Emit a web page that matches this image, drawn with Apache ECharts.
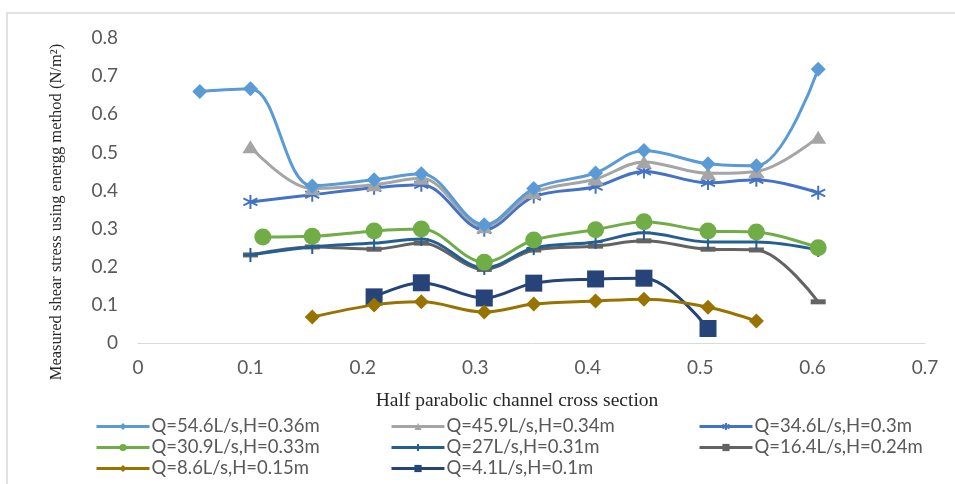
<!DOCTYPE html>
<html><head><meta charset="utf-8">
<script src="https://cdn.jsdelivr.net/npm/echarts@6/dist/echarts.min.js"></script>
<style>html,body{margin:0;padding:0;background:#fff}#c{width:955px;height:484px}</style>
</head><body><div id="c"></div>
<script>
const xTicks = ['0','0.1','0.2','0.3','0.4','0.5','0.6','0.7'];
const yTicks = ['0','0.1','0.2','0.3','0.4','0.5','0.6','0.7','0.8'];
const names = ['Q=54.6L/s,H=0.36m','Q=45.9L/s,H=0.34m','Q=34.6L/s,H=0.3m','Q=30.9L/s,H=0.33m','Q=27L/s,H=0.31m','Q=16.4L/s,H=0.24m','Q=8.6L/s,H=0.15m','Q=4.1L/s,H=0.1m'];
const xPos = [0.055,0.1,0.155,0.21,0.252,0.308,0.352,0.407,0.45,0.507,0.55,0.605];
const xPosGreen = [0.111,0.155,0.21,0.252,0.308,0.352,0.407,0.45,0.507,0.55,0.605];
const s1 = [0.66,0.667,0.412,0.428,0.444,0.31,0.405,0.446,0.505,0.47,0.465,0.718];
const s2 = [null,0.515,0.405,0.415,0.432,0.305,0.395,0.43,0.475,0.445,0.45,0.54];
const s3 = [null,0.37,0.389,0.407,0.415,0.297,0.384,0.41,0.45,0.42,0.428,0.394];
const s4 = [0.278,0.28,0.294,0.299,0.212,0.27,0.297,0.318,0.294,0.291,0.25];
const s5 = [null,0.231,0.252,0.262,0.273,0.197,0.249,0.265,0.289,0.265,0.265,0.244];
const s6 = [null,0.231,0.252,0.246,0.262,0.193,0.244,0.254,0.268,0.246,0.244,0.108];
const s7 = [null,null,0.068,0.1,0.108,0.081,0.102,0.11,0.115,0.094,0.058,null];
const s8 = [null,null,null,0.121,0.158,0.118,0.157,0.168,0.17,0.038,null,null];

const colors = ['#5B9BD5','#A5A5A5','#4472C4','#70AD47','#255E91','#636363','#997300','#264478'];
const ys = [s1,s2,s3,s4,s5,s6,s7,s8];
const xs = [xPos,xPos,xPos,xPosGreen,xPos,xPos,xPos,xPos];
const symbols = ['diamond','triangle','path://M0,-10L0,10M-8.7,-5L8.7,5M-8.7,5L8.7,-5','circle','path://M0,-10L0,10M-7,0L7,0','rect','diamond','rect'];
const sizes = [[15,15],[16,13],[14,14],[17,17],[14,14],[15,5],[15,15],[17,17]];

function pairs(x, y){ const out=[]; for(let i=0;i<y.length;i++){ if(y[i]!==null) out.push([x[i], y[i]]); } return out; }

const series = ys.map((y,i)=>({
  name: names[i], type:'line', smooth: 0.35, data: pairs(xs[i], y),
  symbol: symbols[i], symbolSize: sizes[i], symbolKeepAspect: false,
  lineStyle:{color:colors[i], width:3},
  itemStyle:{color:colors[i], borderColor:colors[i], borderWidth:(i===2||i===4)?2:0},
  z: 10 - i
}));

const legendBase = {orient:'vertical', top:416, padding:0, itemWidth:53, itemHeight:9, itemGap:0,
  lineStyle:{width:3},
  textStyle:{fontFamily:'Lato', fontSize:18.5, color:'#595959', lineHeight:21, padding:[0,0,0,-3]}};

const chart = echarts.init(document.getElementById('c'));
chart.setOption({
  animation:false,
  color: colors,
  grid:{left:138, right:30, top:38, bottom:141, containLabel:false},
  xAxis:{type:'value', min:0, max:0.7, interval:0.1,
    axisLine:{show:true, lineStyle:{color:'#d9d9d9', width:1}}, axisTick:{show:false}, splitLine:{show:false},
    axisLabel:{color:'#595959', fontSize:19, fontFamily:'Lato', margin:15, formatter:(v)=>xTicks[Math.round(v*10)]}},
  yAxis:{type:'value', min:0, max:0.8, interval:0.1,
    axisLine:{show:false}, axisTick:{show:false}, splitLine:{show:false},
    axisLabel:{color:'#595959', fontSize:19, fontFamily:'Lato', margin:20, formatter:(v)=>yTicks[Math.round(v*10)]}},
  legend:[
    Object.assign({}, legendBase, {left:95, data:[names[0],names[3],names[6]]}),
    Object.assign({}, legendBase, {left:390, data:[names[1],names[4],names[7]]}),
    Object.assign({}, legendBase, {left:698, data:[names[2],names[5]]})
  ],
  graphic:[
    {type:'rect', shape:{x:7, y:13, width:1000, height:600}, style:{fill:null, stroke:'#d9d9d9', lineWidth:1.5}, silent:true, z:-1},
    {type:'text', x:57, y:212, rotation:Math.PI/2, style:{text:'Measured shear stress using energg method (N/m²)', font:'16.5px "Liberation Serif"', fill:'#262626', align:'center', verticalAlign:'middle'}},
    {type:'text', x:517, y:401, style:{text:'Half parabolic channel cross section', font:'19.5px "Liberation Serif"', fill:'#262626', align:'center', verticalAlign:'middle'}}
  ],
  series: series
});
</script></body></html>
